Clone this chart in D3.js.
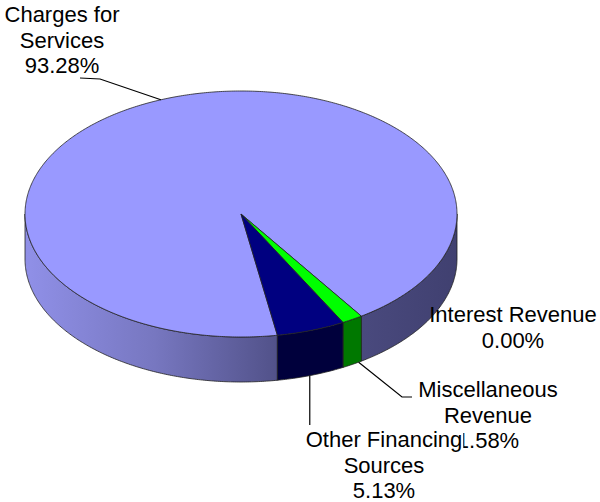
<!DOCTYPE html>
<html>
<head>
<meta charset="utf-8">
<script src="https://cdn.jsdelivr.net/npm/d3@7"></script>
<style>
  html, body { margin: 0; padding: 0; background: #fff; }
  svg { display: block; }
  text { font-family: "Liberation Sans", Arial, sans-serif; font-size: 22px; fill: #000; }
</style>
</head>
<body>
<svg id="chart" width="600" height="502"></svg>
<script>
// Revenue sources, share of total (%)
const categories = ["Charges for Services", "Interest Revenue", "Miscellaneous Revenue", "Other Financing Sources"];
const shares = [93.28, 0.00, 1.58, 5.13];
const labelLines = [["Charges for", "Services"], ["Interest Revenue"], ["Miscellaneous", "Revenue"], ["Other Financing", "Sources"]];
const topColors = ["#9999ff", "#ffffcc", "#00ff00", "#000080"];
const sideColors = ["url(#sideShade)", "#cccc99", "#007800", "#00003c"];

const svg = d3.select("#chart");

// Ellipse geometry of the tilted disc
const cx = 241, cy = 214, rx = 216, ry = 123, depth = 45;
const startDeg = 170.3;

const pie = d3.pie().sort(null).value(d => d)
  .startAngle(startDeg * Math.PI / 180)
  .endAngle(startDeg * Math.PI / 180 + 2 * Math.PI);
const arcs = pie(shares);

// point on the rim for a d3 pie angle (0 = 12 o'clock, clockwise)
const px = a => cx + rx * Math.sin(a);
const py = (a, dy = 0) => cy - ry * Math.cos(a) + dy;

function rimPoints(a0, a1, dy = 0) {
  const n = Math.max(2, Math.ceil(Math.abs(a1 - a0) / 0.01));
  return d3.range(n + 1).map(i => {
    const a = a0 + (a1 - a0) * i / n;
    return [px(a), py(a, dy)];
  });
}
const line = d3.line();

// side shading, lit from the left
const defs = svg.append("defs");
const grad = defs.append("linearGradient").attr("id", "sideShade")
  .attr("gradientUnits", "userSpaceOnUse")
  .attr("x1", cx - rx).attr("y1", 0).attr("x2", cx + rx).attr("y2", 0);
[[0, "#9090e8"], [0.3, "#7777c0"], [0.58, "#52528a"], [1, "#404070"]]
  .forEach(([o, c]) => grad.append("stop").attr("offset", o).attr("stop-color", c));

// front-facing wall segments (angles between 90° and 270°, modulo a turn)
const walls = [];
arcs.forEach((d, i) => {
  if (d.endAngle - d.startAngle <= 0) return;
  for (let k = 0; k < 3; k++) {
    const lo = Math.PI / 2 + 2 * Math.PI * k, hi = 3 * Math.PI / 2 + 2 * Math.PI * k;
    const a0 = Math.max(d.startAngle, lo), a1 = Math.min(d.endAngle, hi);
    if (a1 > a0) walls.push({ i, a0, a1 });
  }
});

const gWalls = svg.append("g");
walls.forEach(w => {
  const top = rimPoints(w.a0, w.a1);
  const bottom = rimPoints(w.a1, w.a0, depth);
  gWalls.append("path")
    .attr("d", line(top.concat(bottom)) + "Z")
    .attr("fill", sideColors[w.i])
    .attr("stroke", "#222")
    .attr("stroke-width", 0.8)
    .attr("stroke-linejoin", "round");
});

// top faces
const gTop = svg.append("g");
arcs.forEach((d, i) => {
  if (d.endAngle - d.startAngle <= 0) return;
  const pts = [[cx, cy]].concat(rimPoints(d.startAngle, d.endAngle));
  gTop.append("path")
    .attr("d", line(pts) + "Z")
    .attr("fill", topColors[i])
    .attr("stroke", "#222")
    .attr("stroke-width", 0.8)
    .attr("stroke-linejoin", "round");
});

// leader lines
const gLines = svg.append("g").attr("fill", "none").attr("stroke", "#000").attr("stroke-width", 1.2);
const midA = d => (d.startAngle + d.endAngle) / 2;
// Charges for Services: from the rim at the slice's middle angle
{
  const a = midA(arcs[0]);
  gLines.append("path").attr("d", line([[80, 78], [100, 79], [px(a), py(a)]]));
}
// Miscellaneous Revenue: from the bottom of its wall
{
  const a = arcs[2].startAngle + 0.015;
  gLines.append("path").attr("d", line([[px(a), py(a, depth)], [402, 397], [412, 397]]));
}
// Other Financing Sources: straight down from its wall
{
  const a = arcs[3].startAngle + (arcs[3].endAngle - arcs[3].startAngle) * 0.52;
  const x = px(a);
  gLines.append("path").attr("d", line([[x, py(a, depth)], [x, 425]]));
}

// labels
const pct = d3.format(".2f");
const labelPos = [
  { x: 62, y: 22 },
  { x: 513, y: 322 },
  { x: 488, y: 397 },
  { x: 384, y: 447 }
];
const lh = 25.5;
const gLabels = svg.append("g").attr("text-anchor", "middle");
[0, 1, 2, 3].forEach(i => {
  const lines = labelLines[i].concat([pct(shares[i]) + "%"]);
  const g = gLabels.append("g");
  if (i === 3) {
    // this label sits over its neighbour, with an opaque backing
    lines.forEach((t, j) => {
      const tmp = g.append("text").attr("x", labelPos[i].x).attr("y", labelPos[i].y + j * lh).text(t);
      const b = tmp.node().getBBox();
      tmp.remove();
      g.append("rect").attr("x", b.x - 1).attr("y", b.y + 2).attr("width", b.width + 2).attr("height", b.height - 3).attr("fill", "#fff");
    });
  }
  lines.forEach((t, j) => {
    g.append("text").attr("x", labelPos[i].x).attr("y", labelPos[i].y + j * lh).text(t);
  });
});
</script>
</body>
</html>
